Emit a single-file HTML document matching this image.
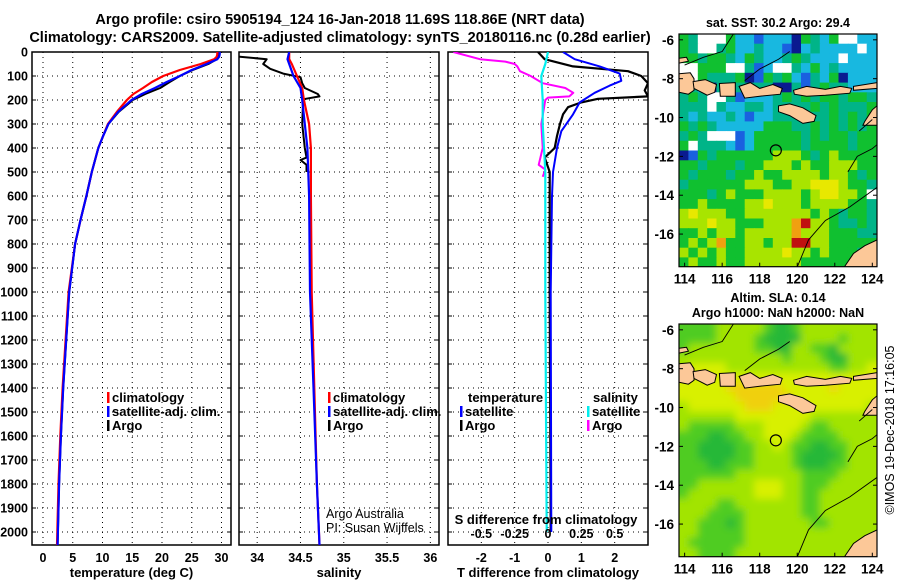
<!DOCTYPE html>
<html><head><meta charset="utf-8">
<style>
html,body{margin:0;padding:0;background:#fff;}
svg{display:block;font-family:"Liberation Sans",sans-serif;}
.b{font-weight:bold;}
</style></head>
<body>
<svg id="s" width="900" height="580" viewBox="0 0 900 580" xmlns="http://www.w3.org/2000/svg">
<rect width="900" height="580" fill="#fff"/>
<defs><filter id="blur" x="-5%" y="-5%" width="110%" height="110%"><feGaussianBlur stdDeviation="4"/></filter></defs>
<text x="340" y="24" text-anchor="middle" font-size="14.5" class="b">Argo profile: csiro 5905194_124 16-Jan-2018 11.69S 118.86E (NRT data)</text>
<text x="340" y="42" text-anchor="middle" font-size="14.5" class="b">Climatology: CARS2009. Satellite-adjusted climatology: synTS_20180116.nc (0.28d earlier)</text>
<g id="g"></g>
</svg>
<script>
// ---------- profile data ----------
const tDepth = [0,10,20,30,50,75,100,125,150,175,200,250,300,350,400,500,600,700,800,1000,1200,1400,1600,1800,2000,2055];
const tClim  = [29.3,29.3,29.2,28.8,26.5,23,20.2,18.3,16.8,15.2,14.1,12.4,10.9,10.1,9.3,8.2,7.3,6.3,5.4,4.3,3.8,3.3,2.9,2.6,2.4,2.35];
const tSat   = [29.7,29.7,29.6,29.3,27.5,25,23.0,20.8,18.8,16.6,14.9,12.6,11.0,10.1,9.3,8.2,7.3,6.3,5.4,4.4,3.9,3.4,3.0,2.7,2.5,2.45];
const tArgo  = [29.4,29.4,29.3,29.2,27.8,25.2,23.0,21.3,19.7,17.2,15.1,12.7,11.0,10.1,9.3,8.2,7.3,6.3,5.4,4.4,3.9,3.4,3.0,2.7,2.5,2.45];

const sDepth = [0,30,50,100,150,200,300,400,600,1000,1400,1800,2055];
const sClim  = [34.37,34.37,34.40,34.46,34.52,34.54,34.60,34.62,34.62,34.63,34.66,34.69,34.72];
const sSat   = [34.37,34.35,34.37,34.42,34.50,34.52,34.55,34.58,34.60,34.61,34.65,34.69,34.72];
const saDepth = [15,20,30,50,70,90,105,130,150,175,185,195,200,300,400,440,450,470,500];
const saArgo  = [33.75,33.80,34.11,34.07,34.15,34.30,34.50,34.52,34.55,34.70,34.72,34.56,34.53,34.52,34.55,34.57,34.50,34.57,34.57];

const dDepthB = [0,30,60,80,100,130,160,185,195,210,230,260,300,350,400,440,500,1000,2000];
const dTArgo  = [-0.3,-0.1,0.75,2.4,2.8,3.0,2.9,3.0,1.5,1.0,0.6,0.45,0.36,0.27,0.2,-0.1,0.05,0.05,0.08];
const dDepthS = [0,30,60,90,120,140,170,210,260,330,400,500,600,1000,2000];
const dTSat   = [0.45,0.8,1.55,2.15,2.2,1.85,1.4,0.95,0.75,0.4,0.27,0.15,0.12,0.08,0.1];
const dDepthM = [0,30,40,50,60,80,100,130,150,170,185,190,200,300,400,470,490,520];
const dSArgo  = [-0.71,-0.51,-0.32,-0.25,-0.23,-0.21,-0.13,-0.04,0.13,0.19,0.16,0,-0.02,-0.05,-0.04,-0.07,-0.02,-0.04];
const dDepthC = [0,50,100,200,300,400,500,1000,2000];
const dSSat   = [0,-0.02,-0.05,-0.04,-0.04,-0.03,-0.02,-0.02,-0.01];

const depthTicks = [0,100,200,300,400,500,600,700,800,900,1000,1100,1200,1300,1400,1500,1600,1700,1800,1900,2000];
const tTicks = [0,5,10,15,20,25,30];
const sTicks = [34,34.5,35,35.5,36];
const sTickLabels = ["34","34.5","35","35.5","36"];
const dtTicks = [-2,-1,0,1,2];
const dsTicks = [-0.5,-0.25,0,0.25,0.5];
const dsTickLabels = ["-0.5","-0.25","0","0.25","0.5"];

// ---------- maps ----------
const sstRows = [
"gtwwwgccbcccngtcgwwcc","gtwwtgcctccbnctccccwc","ggtggtcgtcctgtcccwccc","wwgggwwtbcwwtcgctcccc",
"wwgtttgnbgtgcbtcgnccc","ttcnttttttnntbtgttccc","tgtwwtbccctgtgtggtggt","tttwtccttcttttgtgtttg",
"tctcctcbcctttgttgtgtg","gtgtcccccgggttgtgtgtg","tgtwwwbcgggggtgtggtgg","gwtttcbcgggggtggggtgg",
"nbgtggggggyyygtgygggg","ggtgggtggyyygyggyyygg","gtgggtggyggyyyygyygtg","tggggggyyyggyyYYYyggt",
"gggtgygggyyyygyYYyygw","ggyggggyyYyyygyyyyggt","yYyyyggyyyyyyygygtggt","yyyYyygggyyyoryygttgt",
"ggygyygyyyyyoyyygggtt","gygyoggyygyyrryyggggg","ygygyggyyyyYyygygggtg","gyggyggyyyyyygggggggg"];
const sstColors = {g:"#10c030",G:"#00dd00",t:"#00b488",c:"#18b8e0",b:"#1a60e0",n:"#0a1a90",w:"#ffffff",y:"#a8e400",Y:"#e8e800",o:"#f0a010",r:"#c01010"};
const slaRows = [
"222233333211233333333","222233332111133332333","233333332211332213333","333333333332333211333",
"344443333333333322334","444444444444444444444","444445555554444454444","444444555555444444444",
"344444455544444444443","333333444444443333333","322222333444432233333","222112233444322223333",
"221111223343221122333","221111223333211112333","222112223333211122333","222222333333322223333",
"223333334443322233333","233333334443322333333","333322333333322333333","333222233333322333333",
"332221233333332233333","332222233333333333333","322222233333333333333","332222333333333333333"];
const slaColors = {"1":"#28b838","2":"#50cc20","3":"#a2e400","4":"#d8f000","5":"#f0d010"};
const lonTicks = [114,116,118,120,122,124];
const latTicks = [-6,-8,-10,-12,-14,-16];
const land = {
 madura:[[113.7,-6.95],[114.1,-6.9],[114.2,-7.1],[113.7,-7.2]],
 java:[[113.7,-7.75],[114.3,-7.7],[114.5,-8.0],[114.5,-8.6],[114.2,-8.8],[113.7,-8.7]],
 bali:[[114.45,-8.15],[115.1,-8.05],[115.7,-8.3],[115.6,-8.7],[115.2,-8.85],[114.5,-8.5]],
 lombok:[[115.85,-8.25],[116.7,-8.2],[116.7,-8.9],[115.9,-8.9]],
 sumbawa:[[116.9,-8.4],[117.5,-8.2],[118.0,-8.5],[118.7,-8.3],[119.2,-8.5],[119.1,-8.8],[118.0,-8.9],[117.2,-9.0]],
 flores:[[119.8,-8.6],[120.5,-8.4],[121.5,-8.55],[122.3,-8.4],[122.9,-8.5],[122.8,-8.75],[121.5,-8.85],[120.5,-8.9],[119.85,-8.8]],
 alor:[[123.0,-8.4],[124.25,-8.2],[124.25,-8.5],[123.0,-8.6]],
 sumba:[[119.0,-9.4],[119.6,-9.3],[120.3,-9.5],[121.0,-9.9],[120.9,-10.2],[120.3,-10.3],[119.6,-9.9],[119.0,-9.7]],
 timor:[[123.6,-10.2],[124.0,-9.6],[124.25,-9.4],[124.25,-10.4],[123.5,-10.4]],
 australia:[[122.5,-17.7],[123.0,-17.0],[123.6,-16.6],[124.25,-16.3],[124.25,-17.7]]
};
const contours = [
 [[120.0,-17.7],[120.6,-16.3],[121.5,-15.3],[122.8,-14.6],[124.25,-13.6]],
 [[122.7,-12.8],[123.2,-12.0],[124.0,-11.6],[124.25,-11.4]],
 [[114.0,-7.3],[115.0,-6.9],[116.0,-6.6],[116.6,-5.7]],
 [[117.2,-8.1],[118.0,-7.5],[119.0,-7.0],[119.6,-6.6]],
 [[123.3,-10.7],[124.0,-10.1]]
];
const argoLon = 118.86, argoLat = -11.69;

// ---------- drawing ----------
const NS="http://www.w3.org/2000/svg";
const G=document.getElementById('g');
function el(tag,attrs,parent,text){const e=document.createElementNS(NS,tag);for(const k in attrs)e.setAttribute(k,attrs[k]);if(text!==undefined)e.textContent=text;(parent||G).appendChild(e);return e;}

const Y0=52, Y1=545;
const yD=d=>Y0+d*0.24;
function lin(d0,d1,p0,p1){return v=>p0+(v-d0)*(p1-p0)/(d1-d0);}
const xT=lin(-1.85,31.6,32,231);
const xS=lin(33.79,36.1,239,439);
const xDT=lin(-3,3,448,648);
const xDS=lin(-0.75,0.75,448,648);

function panel(name,x0,x1,vgrid,xf,labels,title){
  const g=el('g',{});  
  depthTicks.forEach(d=>{ if(d>0){const l=el('line',{x1:x0,x2:x1,y1:yD(d),y2:yD(d),stroke:'#000','stroke-width':1,'stroke-dasharray':'1 4'},g);}
    el('line',{x1:x0,x2:x0+4,y1:yD(d),y2:yD(d),stroke:'#000'},g); el('line',{x1:x1-4,x2:x1,y1:yD(d),y2:yD(d),stroke:'#000'},g);});
  vgrid.forEach((v,i)=>{const x=xf(v);const l=el('line',{x1:x,x2:x,y1:Y0,y2:Y1,stroke:'#000','stroke-width':1,'stroke-dasharray':'1 4'},g);
    
    if(labels){const t=el('text',{x:x,y:562,'text-anchor':'middle','font-size':12.5,'class':'b'},g,labels[i]);}});
  const f=el('rect',{x:x0,y:Y0,width:x1-x0,height:Y1-Y0,fill:'none',stroke:'#000','stroke-width':1.5},g);
  
  const tt=el('text',{x:(x0+x1)/2,y:577,'text-anchor':'middle','font-size':13,'class':'b'},g,title);
  
  return g;
}
function line(xs,ds,xf,color,w,name,parent){
  const pts=xs.map((v,i)=>xf(v).toFixed(1)+','+yD(ds[i]).toFixed(1)).join(' ');
  const p=el('polyline',{points:pts,fill:'none',stroke:color,'stroke-width':w,'stroke-linejoin':'round'},parent);
  
}
depthTicks.forEach(d=>{const t=el('text',{x:28,y:yD(d)+4.5,'text-anchor':'end','font-size':12.5,'class':'b'},G,String(d));
  });

const clipDefs=el('defs',{});
[['c1',32,231],['c2',239,439],['c3',448,648]].forEach(c=>{const cp=el('clipPath',{id:c[0]},clipDefs);el('rect',{x:c[1],y:Y0,width:c[2]-c[1],height:Y1-Y0},cp);});

const p1=panel('temperature-panel',32,231,tTicks,xT,tTicks.map(String),'temperature (deg C)');
const l1=el('g',{'clip-path':'url(#c1)'},p1);
line(tArgo,tDepth,xT,'#000',2,'argo-temperature-line',l1);
line(tClim,tDepth,xT,'#f00',2.2,'climatology-temperature-line',l1);
line(tSat,tDepth,xT,'#00f',2.2,'satellite-temperature-line',l1);

const p2=panel('salinity-panel',239,439,sTicks,xS,sTickLabels,'salinity');
const l2=el('g',{'clip-path':'url(#c2)'},p2);
line(saArgo,saDepth,xS,'#000',2,'argo-salinity-line',l2);
line(sClim,sDepth,xS,'#f00',2.2,'climatology-salinity-line',l2);
line(sSat,sDepth,xS,'#00f',2.2,'satellite-salinity-line',l2);

const p3=panel('difference-panel',448,648,dtTicks,xDT,dtTicks.map(String),'T difference from climatology');
const l3=el('g',{'clip-path':'url(#c3)'},p3);
line(dSArgo,dDepthM,xDS,'#f0f',2,'argo-s-difference-line',l3);
line(dTArgo,dDepthB,xDT,'#000',2.2,'argo-t-difference-line',l3);
line(dSSat,dDepthC,xDS,'#0ee',2.2,'satellite-s-difference-line',l3);
line(dTSat,dDepthS,xDT,'#00f',2,'satellite-t-difference-line',l3);
dsTicks.forEach((v,i)=>{const t=el('text',{x:xDS(v),y:538,'text-anchor':'middle','font-size':12.5,'class':'b'},p3,dsTickLabels[i]);
  });
const st=el('text',{x:546,y:524,'text-anchor':'middle','font-size':13,'class':'b'},p3,'S difference from climatology');


function legend(x,y,color,label,name){
  const g=el('g',{});  
  el('rect',{x:x,y:y-10,width:2.5,height:11,fill:color},g);
  el('text',{x:x+5,y:y,'font-size':13,'class':'b'},g,label);
}
legend(107,402,'#f00','climatology','legend-entry-climatology');
legend(107,416,'#00f','satellite-adj. clim.','legend-entry-satellite-adj');
legend(107,430,'#000','Argo','legend-entry-argo');
legend(328,402,'#f00','climatology','legend-entry-climatology');
legend(328,416,'#00f','satellite-adj. clim.','legend-entry-satellite-adj');
legend(328,430,'#000','Argo','legend-entry-argo');
let lt=el('text',{x:468,y:402,'font-size':13,'class':'b'},G,'temperature');
lt=el('text',{x:593,y:402,'font-size':13,'class':'b'},G,'salinity');
legend(460,416,'#00f','satellite','legend-entry-t-satellite');
legend(460,430,'#000','Argo','legend-entry-t-argo');
legend(587,416,'#0ee','satellite','legend-entry-s-satellite');
legend(587,430,'#f0f','Argo','legend-entry-s-argo');
lt=el('text',{x:326,y:518,'font-size':12.5},G,'Argo Australia');
lt=el('text',{x:326,y:532,'font-size':12.5},G,'PI: Susan Wijffels');

function map(name,top,rows,colors,titles,smooth){
  const L=679,R=877,B=top+232.7;
  const xL=lin(113.7,124.25,L,R), yL=lin(-5.7,-17.68,top,B);
  const g=el('g',{});  
  const cid='clip'+name; const cp=el('clipPath',{id:cid},clipDefs); el('rect',{x:L,y:top,width:R-L,height:B-top},cp);
  const cg=el('g',{'clip-path':'url(#'+cid+')'},g);
  const cellG=el('g',smooth?{filter:'url(#blur)'}:{},cg);
  rows.forEach((row,r)=>{for(let c=0;c<row.length;c++){
    const lon0=113.7+c*0.5, lat0=-5.7-r*0.5;
    const x=xL(lon0), y=yL(lat0);
    const ext=smooth?8:0;
    const cell=el('rect',{x:(x-(c===0?ext:0)).toFixed(1),y:(y-(r===0?ext:0)).toFixed(1),width:(xL(lon0+0.5)-x+0.6+(c===0||c===row.length-1?ext:0)).toFixed(1),height:(yL(lat0-0.5)-y+0.6+(r===0||r===rows.length-1?ext:0)).toFixed(1),fill:colors[row[c]]},cellG);
    
  }});
  for(const k in land){const p=el('polygon',{points:land[k].map(q=>xL(q[0]).toFixed(1)+','+yL(q[1]).toFixed(1)).join(' '),fill:'#fcc898',stroke:'#000','stroke-width':1},cg);
    }
  contours.forEach(cn=>{const p=el('polyline',{points:cn.map(q=>xL(q[0]).toFixed(1)+','+yL(q[1]).toFixed(1)).join(' '),fill:'none',stroke:'#000','stroke-width':0.9},cg);
    });
  const ci=el('circle',{cx:xL(argoLon),cy:yL(argoLat),r:5.5,fill:'none',stroke:'#000','stroke-width':1.2},g);
  
  const fr=el('rect',{x:L,y:top,width:R-L,height:B-top,fill:'none',stroke:'#000','stroke-width':1.2},g);
  
  lonTicks.forEach(v=>{const x=xL(v);el('line',{x1:x,x2:x,y1:B,y2:B-4,stroke:'#000'},g);
    const t=el('text',{x:x,y:B+17,'text-anchor':'middle','font-size':13.5,'class':'b'},g,String(v));});
  latTicks.forEach(v=>{const y=yL(v);el('line',{x1:R,x2:R-4,y1:y,y2:y,stroke:'#000'},g);el('line',{x1:L,x2:L+4,y1:y,y2:y,stroke:'#000'},g);
    const t=el('text',{x:L-5,y:y+5,'text-anchor':'end','font-size':13.5,'class':'b'},g,String(v));});
  titles.forEach((s,i)=>{const t=el('text',{x:778,y:top-(titles.length-i-1)*15-7,'text-anchor':'middle','font-size':12.5,'class':'b'},g,s);});
}
map('sst-map',34,sstRows,sstColors,['sat. SST: 30.2 Argo: 29.4'],false);
map('sla-map',324,slaRows,slaColors,['Altim. SLA: 0.14','Argo h1000: NaN h2000: NaN'],true);
const cr=el('text',{x:0,y:0,'font-size':12.5,transform:'translate(894,430) rotate(-90)','text-anchor':'middle'},G,'©IMOS 19-Dec-2018 17:16:05');

</script>
</body></html>
